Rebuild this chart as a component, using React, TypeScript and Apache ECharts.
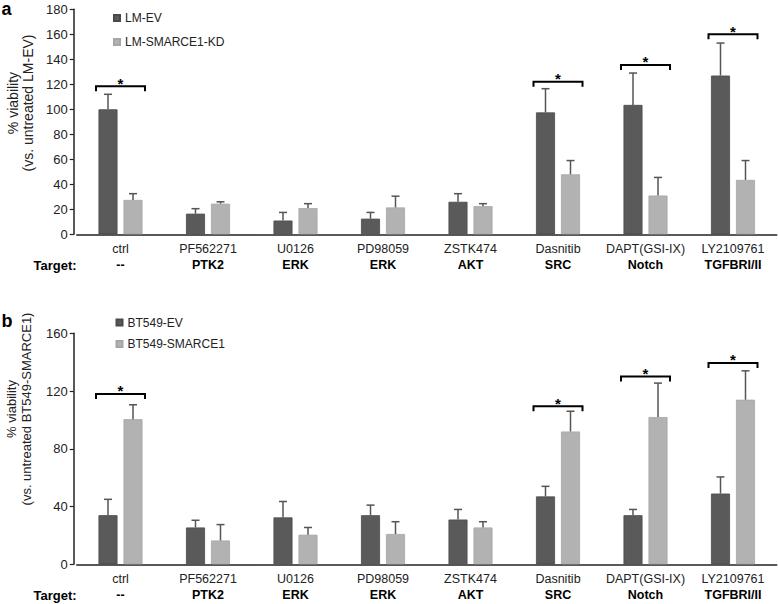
import React, { useEffect, useRef } from 'react';
import * as echarts from 'echarts';

const categories = ['ctrl', 'PF562271', 'U0126', 'PD98059', 'ZSTK474', 'Dasnitib', 'DAPT(GSI-IX)', 'LY2109761'];
const targets = ['--', 'PTK2', 'ERK', 'ERK', 'AKT', 'SRC', 'Notch', 'TGFBRI/II'];

// Panel a
const lmEV = [100, 16.5, 11, 12.5, 26, 97.5, 103.5, 127];
const lmEVErr = [12, 4, 6.5, 5, 6.5, 19, 25.5, 26];
const lmKD = [27.5, 24.5, 21, 21.5, 22.5, 48, 31, 43.5];
const lmKDErr = [5, 1.5, 3.5, 9, 2, 11, 14.5, 15.5];
const sigCatsA = [0, 5, 6, 7];
const sigYA = [118.5, 122, 135.5, 160];

// Panel b
const btEV = [34, 25.5, 32.5, 34, 31, 47, 34, 49];
const btEVErr = [11, 5, 11, 7, 7, 7, 4, 11.5];
const btSM = [100.5, 16.5, 20.5, 21, 25.5, 92, 102, 114];
const btSMErr = [10, 11, 5, 8.5, 4, 14, 23.5, 20];
const sigCatsB = [0, 5, 6, 7];
const sigYB = [118, 109.5, 130, 139.5];

const yMaxA = 180, yIntA = 20;
const yMaxB = 160, yIntB = 40;

const DARK = '#5a5a5a';
const LIGHT = '#b2b2b2';
const ERR = '#555555';
const FONT = '"Liberation Sans", Arial, Helvetica, sans-serif';

function errRender(offset: number) {
  return (params: any, api: any) => {
    const c = api.value(0), m = api.value(1), e = api.value(2);
    const p0 = api.coord([c, m]);
    const p1 = api.coord([c, m + e]);
    const x = p0[0] + offset;
    return {
      type: 'group',
      children: [
        { type: 'line', shape: { x1: x, y1: p0[1], x2: x, y2: p1[1] }, style: { stroke: ERR, lineWidth: 1.5 } },
        { type: 'line', shape: { x1: x - 4, y1: p1[1], x2: x + 4, y2: p1[1] }, style: { stroke: ERR, lineWidth: 1.5 } },
      ],
    };
  };
}

function sigRender(params: any, api: any) {
  const p = api.coord([api.value(0), api.value(1)]);
  const h = 24.5;
  return {
    type: 'group',
    children: [
      {
        type: 'polyline',
        shape: { points: [[p[0] - h, p[1] + 5], [p[0] - h, p[1]], [p[0] + h, p[1]], [p[0] + h, p[1] + 5]] },
        style: { stroke: '#000', lineWidth: 2, fill: null },
      },
      {
        type: 'text',
        x: p[0],
        y: p[1] - 3,
        style: { text: '*', align: 'center', verticalAlign: 'middle', fontSize: 15, fontWeight: 'bold', fill: '#000', fontFamily: FONT },
      },
    ],
  };
}

function panelSeries(idx: number, names: string[], v1: number[], e1: number[], v2: number[], e2: number[], cats: number[], ys: number[]) {
  return [
    { name: names[0], type: 'bar', xAxisIndex: idx, yAxisIndex: idx, data: v1, barWidth: 19, barGap: '31.6%', itemStyle: { color: DARK, borderColor: '#4a4a4a', borderWidth: 0.8 } },
    { name: names[1], type: 'bar', xAxisIndex: idx, yAxisIndex: idx, data: v2, barWidth: 19, barGap: '31.6%', itemStyle: { color: LIGHT, borderColor: '#a6a6a6', borderWidth: 0.8 } },
    { type: 'custom', xAxisIndex: idx, yAxisIndex: idx, renderItem: errRender(-12.5), data: v1.map((v, i) => [i, v, e1[i]]), encode: { x: 0, y: 1 }, z: 5, silent: true },
    { type: 'custom', xAxisIndex: idx, yAxisIndex: idx, renderItem: errRender(12.5), data: v2.map((v, i) => [i, v, e2[i]]), encode: { x: 0, y: 1 }, z: 5, silent: true },
    { type: 'custom', xAxisIndex: idx, yAxisIndex: idx, renderItem: sigRender, data: cats.map((c, i) => [c, ys[i]]), encode: { x: 0, y: 1 }, z: 6, silent: true },
  ];
}

function xAxisFor(idx: number, lh: number) {
  return {
    type: 'category',
    gridIndex: idx,
    data: categories,
    axisTick: { show: false },
    axisLine: { show: true, lineStyle: { color: '#222', width: 1.5 } },
    axisLabel: {
      interval: 0,
      margin: 7,
      formatter: (v: string, i: number) => `{n|${v}}\n{b|${targets[i]}}`,
      rich: {
        n: { fontSize: 12.5, color: '#222', fontFamily: FONT, lineHeight: lh },
        b: { fontSize: 12.5, fontWeight: 'bold', color: '#000', fontFamily: FONT, lineHeight: lh },
      },
    },
  };
}

function yAxisFor(idx: number, max: number, interval: number) {
  return {
    type: 'value',
    gridIndex: idx,
    min: 0,
    max,
    interval,
    offset: 3,
    splitLine: { show: false },
    axisLine: { show: true, lineStyle: { color: '#222', width: 1.5 } },
    axisTick: { show: true, length: 4, lineStyle: { color: '#222', width: 1.2 } },
    axisLabel: { fontSize: 13, color: '#222', fontFamily: FONT, margin: 6 },
  };
}

export default function App() {
  const ref = useRef<HTMLDivElement>(null);
  useEffect(() => {
    if (!ref.current) return;
    const chart = echarts.init(ref.current, undefined, { renderer: 'svg' });
    chart.setOption({
      animation: false,
      backgroundColor: '#fff',
      textStyle: { fontFamily: FONT },
      grid: [
        { left: 76.75, right: 1.25, top: 9.3, height: 225, outerBoundsMode: 'none' },
        { left: 76.75, right: 1.25, top: 333.3, height: 231, outerBoundsMode: 'none' },
      ],
      legend: [
        {
          data: ['LM-EV', 'LM-SMARCE1-KD'], orient: 'vertical', left: 113, top: 12, padding: 0,
          itemWidth: 6, itemHeight: 6, itemGap: 12, itemTextGap: 10, icon: 'rect',
          textStyle: { fontSize: 12, color: '#222', fontFamily: FONT },
        },
        {
          data: ['BT549-EV', 'BT549-SMARCE1'], orient: 'vertical', left: 115.5, top: 316.5, padding: 0,
          itemWidth: 6, itemHeight: 6, itemGap: 9.6, itemTextGap: 10, icon: 'rect',
          textStyle: { fontSize: 12, color: '#222', fontFamily: FONT },
        },
      ],
      xAxis: [xAxisFor(0, 16), xAxisFor(1, 15.5)],
      yAxis: [yAxisFor(0, yMaxA, yIntA), yAxisFor(1, yMaxB, yIntB)],
      series: [
        ...panelSeries(0, ['LM-EV', 'LM-SMARCE1-KD'], lmEV, lmEVErr, lmKD, lmKDErr, sigCatsA, sigYA),
        ...panelSeries(1, ['BT549-EV', 'BT549-SMARCE1'], btEV, btEVErr, btSM, btSMErr, sigCatsB, sigYB),
      ],
      graphic: [
        { type: 'text', x: 1.5, y: 0, style: { text: 'a', fontSize: 18, fontWeight: 'bold', fill: '#000', fontFamily: FONT, verticalAlign: 'top' } },
        { type: 'text', x: 1.5, y: 312, style: { text: 'b', fontSize: 18, fontWeight: 'bold', fill: '#000', fontFamily: FONT, verticalAlign: 'top' } },
        { type: 'text', x: 20, y: 103, rotation: Math.PI / 2, style: { text: '% viability\n(vs. untreated LM-EV)', align: 'center', verticalAlign: 'middle', fontSize: 14, lineHeight: 15, fill: '#222', fontFamily: FONT } },
        { type: 'text', x: 19, y: 409, rotation: Math.PI / 2, style: { text: '% viability\n(vs. untreated BT549-SMARCE1)', align: 'center', verticalAlign: 'middle', fontSize: 13, lineHeight: 14.5, fill: '#222', fontFamily: FONT } },
        { type: 'text', x: 55, y: 265.7, style: { text: 'Target:', align: 'center', verticalAlign: 'middle', fontSize: 13, fontWeight: 'bold', fill: '#000', fontFamily: FONT } },
        { type: 'text', x: 55, y: 595.5, style: { text: 'Target:', align: 'center', verticalAlign: 'middle', fontSize: 13, fontWeight: 'bold', fill: '#000', fontFamily: FONT } },
      ],
    });
    return () => chart.dispose();
  }, []);
  return <div ref={ref} style={{ position: 'fixed', left: 0, top: 0, width: 778, height: 604, background: '#fff' }} />;
}
